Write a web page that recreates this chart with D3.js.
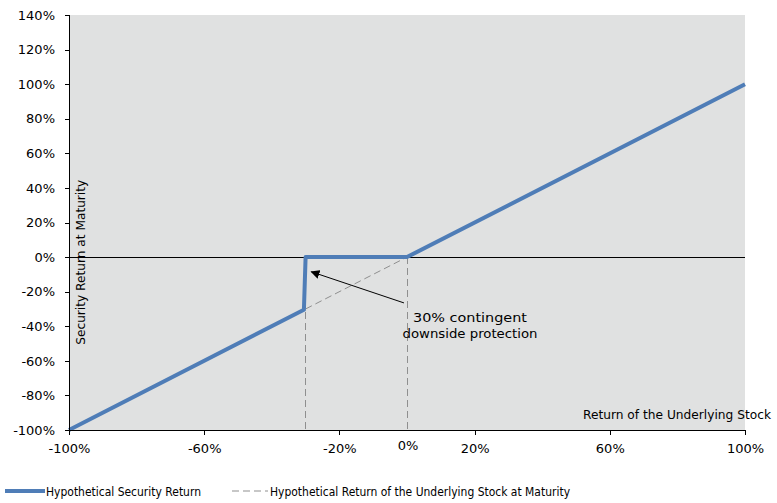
<!DOCTYPE html>
<html>
<head>
	<meta charset="utf-8">
	<title>Security Return</title>
	<script src="https://d3js.org/d3.v7.min.js"></script>
	<style>
		html, body { margin: 0; background: white; }
		text { font-family: "DejaVu Sans", Verdana, sans-serif; fill: #000; }
	</style>
</head>
<body>
	<svg id="svg"></svg>
	<script>
		// chart values
		const stockReturn = [-100, -30.5, -30, 0, 100];
		const securityReturn = [-100, -30.5, 0, 0, 100];
		const underlyingX = [-30, 0];
		const underlyingY = [-30, 0];
		const barrierLevels = [-30, 0];
		const yTicks = [-100, -80, -60, -40, -20, 0, 20, 40, 60, 80, 100, 120, 140];
		const xTicks = [-100, -60, -20, 20, 60, 100];
		const seriesNames = ["Hypothetical Security Return", "Hypothetical Return of the Underlying Stock at Maturity"];
		const annotationLines = ["30% contingent", "downside protection"];
		const arrowFrom = [-0.9, -26.5];
		const arrowTo = [-28.3, -8.5];

		const width = 777, height = 503;
		const margins = { top: 15, left: 69, right: 32, bottom: 73 };

		const svg = d3.select("#svg")
		.attr("width", width)
		.attr("height", height);

		const scaleX = d3.scaleLinear()
		.domain([-100, 100])
		.range([margins.left, width - margins.right]);

		const scaleY = d3.scaleLinear()
		.domain([-100, 140])
		.range([height - margins.bottom, margins.top]);

		const blue = "#4f7db7";
		const grey = "#8f8f8f";

		svg.append("defs").append("marker")
		.attr("id", "arrow")
		.attr("viewBox", "0 0 10 10")
		.attr("refX", 9).attr("refY", 5)
		.attr("markerWidth", 9).attr("markerHeight", 9)
		.attr("markerUnits", "userSpaceOnUse")
		.attr("orient", "auto")
		.append("path")
		.attr("d", "M0,0 L10,5 L0,10 Z")
		.attr("fill", "#000");

		// plot background
		svg.append("rect")
		.attr("x", scaleX(-100))
		.attr("y", scaleY(140))
		.attr("width", scaleX(100) - scaleX(-100))
		.attr("height", scaleY(-100) - scaleY(140))
		.attr("fill", "#e0e1e1");

		// zero line
		svg.append("line")
		.attr("x1", scaleX(-100)).attr("x2", scaleX(100))
		.attr("y1", scaleY(0)).attr("y2", scaleY(0))
		.attr("stroke", "#000")
		.attr("stroke-width", 1)
		.attr("shape-rendering", "crispEdges");

		// dashed underlying diagonal and drop lines
		const dashed = svg.append("g")
		.attr("fill", "none")
		.attr("stroke", grey)
		.attr("stroke-width", 1)
		.attr("stroke-dasharray", "7,4");

		dashed.append("path")
		.attr("d", d3.line()(underlyingX.map((x, i) => [scaleX(x), scaleY(underlyingY[i])])));

		dashed.selectAll("line")
		.data(barrierLevels)
		.enter()
		.append("line")
		.attr("x1", d => scaleX(d)).attr("x2", d => scaleX(d))
		.attr("y1", scaleY(0)).attr("y2", scaleY(-100))
		.attr("shape-rendering", "crispEdges");

		// security line
		const line = d3.line()
		.x(d => scaleX(d[0]))
		.y(d => scaleY(d[1]));

		svg.append("path")
		.attr("fill", "none")
		.attr("stroke", blue)
		.attr("stroke-width", 4)
		.attr("stroke-linejoin", "round")
		.attr("d", line(stockReturn.map((x, i) => [x, securityReturn[i]])));

		// axes
		svg.append("g")
		.attr("transform", `translate(${scaleX(-100)},0)`)
		.attr("shape-rendering", "crispEdges")
		.call(d3.axisLeft(scaleY).tickValues(yTicks).tickSize(4).tickPadding(10).tickFormat(d => d + "%"))
		.call(g => g.select(".domain").attr("stroke", "#000"))
		.call(g => g.selectAll("text").attr("font-size", 13).attr("font-family", null));

		svg.append("g")
		.attr("transform", `translate(0,${scaleY(-100)})`)
		.attr("shape-rendering", "crispEdges")
		.call(d3.axisBottom(scaleX).tickValues(xTicks).tickSize(5).tickPadding(9).tickFormat(d => d + "%"))
		.call(g => g.select(".domain").attr("stroke", "#000"))
		.call(g => g.selectAll("text").attr("font-size", 13).attr("font-family", null));

		svg.append("text")
		.attr("x", scaleX(0) + 1)
		.attr("y", scaleY(-100) + 20)
		.attr("text-anchor", "middle")
		.attr("font-size", 13)
		.text("0%");

		// axis titles
		svg.append("text")
		.attr("x", 771)
		.attr("y", 419)
		.attr("text-anchor", "end")
		.attr("font-size", 12)
		.attr("textLength", 188)
		.attr("lengthAdjust", "spacingAndGlyphs")
		.text("Return of the Underlying Stock");

		svg.append("text")
		.attr("transform", `translate(85,${scaleY(-3)}) rotate(-90)`)
		.attr("text-anchor", "middle")
		.attr("font-size", 12)
		.attr("textLength", 165)
		.attr("lengthAdjust", "spacingAndGlyphs")
		.text("Security Return at Maturity");

		// annotation
		svg.append("line")
		.attr("x1", scaleX(arrowFrom[0])).attr("y1", scaleY(arrowFrom[1]))
		.attr("x2", scaleX(arrowTo[0])).attr("y2", scaleY(arrowTo[1]))
		.attr("stroke", "#000")
		.attr("stroke-width", 1)
		.attr("marker-end", "url(#arrow)");

		svg.append("g")
		.selectAll("text")
		.data(annotationLines)
		.enter()
		.append("text")
		.attr("x", 470)
		.attr("y", (d, i) => 322 + i * 16)
		.attr("text-anchor", "middle")
		.attr("font-size", 13)
		.attr("textLength", (d, i) => i ? 135 : 114)
		.attr("lengthAdjust", "spacingAndGlyphs")
		.text(d => d);

		// legend
		const legend = svg.append("g").attr("transform", "translate(0,491)");
		const legendX = [5, 232];
		const legendW = [155, 300];

		legend.selectAll("line")
		.data(seriesNames)
		.enter()
		.append("line")
		.attr("x1", (d, i) => legendX[i]).attr("x2", (d, i) => legendX[i] + (i ? 36 : 40))
		.attr("y1", 0).attr("y2", 0)
		.attr("stroke", (d, i) => i ? grey : blue)
		.attr("stroke-width", (d, i) => i ? 1 : 4)
		.attr("stroke-dasharray", (d, i) => i ? "7,4" : null);

		legend.selectAll("text")
		.data(seriesNames)
		.enter()
		.append("text")
		.attr("x", (d, i) => legendX[i] + (i ? 38 : 41))
		.attr("y", 4.5)
		.attr("font-size", 12)
		.attr("textLength", (d, i) => legendW[i])
		.attr("lengthAdjust", "spacingAndGlyphs")
		.text(d => d);
	</script>
</body>
</html>
